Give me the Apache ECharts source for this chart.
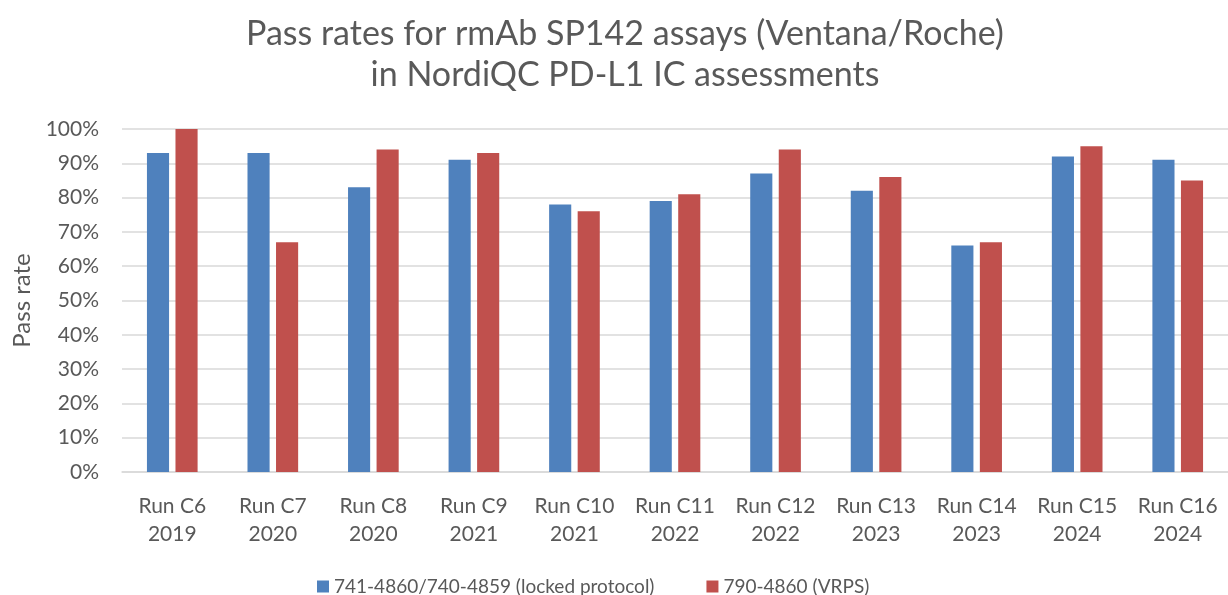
<!DOCTYPE html>
<html>
<head>
<meta charset="utf-8">
<script src="https://cdn.jsdelivr.net/npm/echarts@6/dist/echarts.min.js"></script>
<style>
html, body { margin: 0; padding: 0; background: #fff; }
#chart { width: 1228px; height: 595px; }
</style>
</head>
<body>
<div id="chart"></div>
<script>
var categories = ['Run C6\n2019', 'Run C7\n2020', 'Run C8\n2020', 'Run C9\n2021', 'Run C10\n2021', 'Run C11\n2022',
	'Run C12\n2022', 'Run C13\n2023', 'Run C14\n2023', 'Run C15\n2024', 'Run C16\n2024'];
var lockedProtocol = [93, 93, 83, 91, 78, 79, 87, 82, 66, 92, 91];
var vrps = [100, 67, 94, 93, 76, 81, 94, 86, 67, 95, 85];
var seriesNames = ['741-4860/740-4859 (locked protocol)', '790-4860 (VRPS)'];

var font = 'Lato';
var grey = '#595959';

var myChart = echarts.init(document.getElementById('chart'));
var option = {
	animation: false,
	textStyle: { fontFamily: font },
	title: {
		text: 'Pass rates for rmAb SP142 assays (Ventana/Roche)\nin NordiQC PD-L1 IC assessments',
		left: 620,
		textAlign: 'center',
		top: 9,
		textStyle: { fontFamily: font, fontSize: 34, fontWeight: 'normal', color: grey, lineHeight: 41 }
	},
	legend: {
		bottom: -6,
		left: 312,
		itemWidth: 12,
		itemHeight: 12,
		itemGap: 52,
		icon: 'rect',
		textStyle: { fontFamily: font, fontSize: 19, color: grey },
		data: seriesNames
	},
	grid: { left: 122, right: -11, top: 129, bottom: 123, containLabel: false },
	xAxis: {
		type: 'category',
		data: categories,
		axisLine: { lineStyle: { color: '#d9d9d9', width: 1.5 } },
		axisTick: { show: false },
		axisLabel: { interval: 0, fontFamily: font, fontSize: 21, color: grey, lineHeight: 28, margin: 20 }
	},
	yAxis: {
		type: 'value',
		min: 0,
		max: 100,
		interval: 10,
		name: 'Pass rate',
		nameLocation: 'middle',
		nameGap: 88,
		nameTextStyle: { fontFamily: font, fontSize: 24, color: grey },
		axisLine: { show: false },
		axisTick: { show: false },
		axisLabel: { fontFamily: font, fontSize: 21, color: grey, margin: 23, formatter: '{value}%' },
		splitLine: { lineStyle: { color: '#d9d9d9', width: 1.5 } }
	},
	series: [
		{
			name: seriesNames[0],
			type: 'bar',
			data: lockedProtocol,
			barWidth: '22%',
			barGap: '29%',
			itemStyle: { color: '#4f81bd' }
		},
		{
			name: seriesNames[1],
			type: 'bar',
			data: vrps,
			barWidth: '22%',
			itemStyle: { color: '#c0504d' }
		}
	]
};
myChart.setOption(option);
</script>
</body>
</html>
